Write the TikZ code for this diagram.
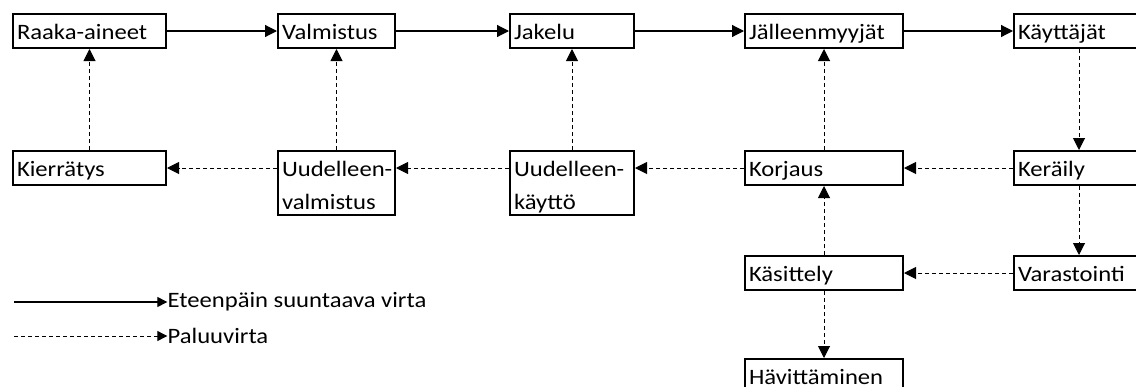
\documentclass[tikz,border=0pt]{standalone}
\usepackage{fontspec}
\setmainfont{Carlito}[FakeStretch=1.12]
\usepackage{tikz}
\usetikzlibrary{arrows.meta,positioning}

\begin{document}
\begin{tikzpicture}[
    font=\fontsize{16.5}{24.75}\selectfont,
    box/.style={
        draw,
        line width=1.5pt,
        inner xsep=3pt,
        inner ysep=0pt,
        text height=18.75pt,
        text depth=6.75pt,
        text width=#1,
        align=left
    },
    twoline/.style={text depth=29.25pt},
    fwd/.style={-{Triangle[length=9pt,width=9pt]}, line width=0.9pt},
    back/.style={-{Triangle[length=9pt,width=9pt]}, line width=0.75pt,
        dash pattern=on 3pt off 2.25pt},
    key/.style={arrows={-Triangle[length=7.5pt,width=7.5pt]}}
]
    \useasboundingbox (0,0) rectangle (852pt,-289.5pt);
    %% Eteenpain suuntaava ketju
    \node[box=108.75pt, anchor=north west] (raw) at (9pt,-9.75pt) {Raaka-aineet};
    \node[box=81.75pt, right=82.5pt of raw] (make) {Valmistus};
    \node[box=87pt, right=84.75pt of make] (dist) {Jakelu};
    \node[box=112.5pt, right=81.75pt of dist] (ret) {Jälleenmyyjät};
    \node[box=91.5pt, right=81.75pt of ret] (users) {Käyttäjät};
    %% Paluuketju
    \node[box=108.75pt, below=75.75pt of raw] (recyc) {Kierrätys};
    \node[box=81.75pt, twoline, below=75.75pt of make] (reman) {\mbox{Uudelleen-}\\valmistus};
    \node[box=87pt, twoline, below=75.75pt of dist] (reuse) {\mbox{Uudelleen-}\\käyttö};
    \node[box=112.5pt, below=75.75pt of ret] (repair) {Korjaus};
    \node[box=91.5pt, below=75.75pt of users] (collect) {Keräily};
    %% Kasittely ja varastointi
    \node[box=112.5pt, below=51.75pt of repair] (handle) {Käsittely};
    \node[box=91.5pt, below=51.75pt of collect] (store) {Varastointi};
    \node[box=112.5pt, below=50.25pt of handle] (dispose) {Hävittäminen};
    %% Selite
    \coordinate (fwdstart) at (10.5pt,-226.5pt);
    \coordinate (backstart) at (10.5pt,-252pt);
    \node[inner sep=0pt, anchor=west] (fwdlab) at (125.5pt,-226.5pt) {Eteenpäin suuntaava virta};
    \node[inner sep=0pt, anchor=west] (backlab) at (125.5pt,-252pt) {Paluuvirta};

    %% Nuolet
    \draw[fwd] (raw) -- (make);
    \draw[fwd] (make) -- (dist);
    \draw[fwd] (dist) -- (ret);
    \draw[fwd] (ret) -- (users);
    \draw[back] (recyc) -- (raw);
    \draw[back] (reman) -- (make);
    \draw[back] (reuse) -- (dist);
    \draw[back] (repair) -- (ret);
    \draw[back] (users) -- (collect);
    \draw[back] (collect) -- (store);
    \draw[back] (reman.west |- recyc) -- (recyc.east);
    \draw[back] (reuse.west |- recyc) -- (reman.east |- recyc);
    \draw[back] (repair.west) -- (reuse.east |- repair);
    \draw[back] (collect) -- (repair);
    \draw[back] (store) -- (handle);
    \draw[back] (handle) -- (repair);
    \draw[back] (handle) -- (dispose);
    \draw[fwd, key] (fwdstart) -- (fwdlab.west);
    \draw[back, key] (backstart) -- (backlab.west);
\end{tikzpicture}
\end{document}
